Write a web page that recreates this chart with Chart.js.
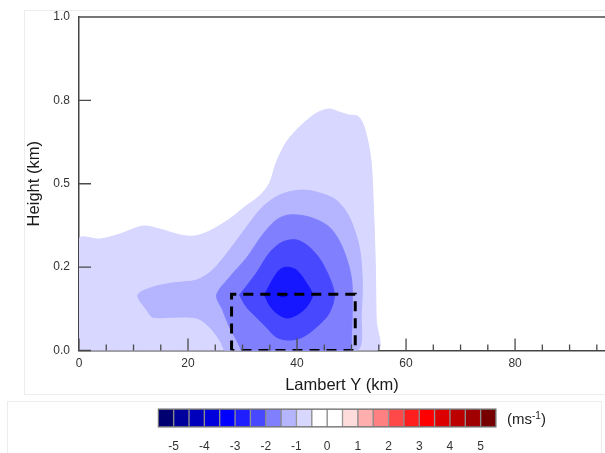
<!DOCTYPE html>
<html>
<head>
<meta charset="utf-8">
<script src="https://cdn.jsdelivr.net/npm/chart.js@4.4.1/dist/chart.umd.min.js"></script>
<style>
  body { margin: 0; background: #fff; width: 605px; height: 453px; overflow: hidden; position: relative;
         font-family: "Liberation Sans", Arial, sans-serif; }
  #plot { position: absolute; left: 0; top: 0; }
  #bar { position: absolute; left: 0; top: 400px; }
  .frame { position: absolute; border: 1px solid #ececec; }
  #unit { position: absolute; left: 507px; top: 410px; font-size: 15px; line-height: 18px; color: #222; }
  #unit sup { font-size: 10px; vertical-align: 5px; line-height: 0; }
</style>
</head>
<body>
<div class="frame" style="left:24px; top:10px; width:590px; height:383px; border-right:none;"></div>
<div class="frame" style="left:7px; top:401px; width:593px; height:60px; border-bottom:none;"></div>
<canvas id="plot" width="605" height="400"></canvas>
<canvas id="bar" width="605" height="53"></canvas>
<div id="unit">(ms<sup>-1</sup>)</div>
<script>
// height axis is drawn with evenly spaced (non-linear) labels
const heightTicks = [0, 0.2, 0.5, 0.8, 1.0];
const heightLabels = ['0.0', '0.2', '0.5', '0.8', '1.0'];
const lambertTicks = [0, 20, 40, 60, 80];

// contour outlines, [Lambert Y (km), height (km)]
const contour1 = [[0, 0], [0, 0.301], [3.84, 0.301], [7.5, 0.319], [11.71, 0.348], [14.82, 0.337], [18.48, 0.316],
  [21.22, 0.312], [23.97, 0.330], [27.63, 0.373], [30.37, 0.416], [33.11, 0.456], [34.94, 0.502], [36.22, 0.578],
  [38.05, 0.650], [40.43, 0.704], [43.54, 0.754], [45.92, 0.769], [47.75, 0.758], [49.58, 0.747], [51.04, 0.744],
  [51.96, 0.722], [52.87, 0.664], [53.6, 0.578], [53.97, 0.441], [54.34, 0.226], [54.52, 0.073], [54.7, 0],
  [30, 0], [0, 0]];
const contour2 = [[26.71, 0], [25.8, 0.025], [23.97, 0.056], [21.59, 0.078], [17.2, 0.08], [13.54, 0.08], [12.44, 0.097],
  [10.79, 0.133], [13.54, 0.152], [17.2, 0.162], [21.59, 0.169], [24.52, 0.193], [27.63, 0.262], [30.74, 0.344],
  [33.66, 0.416], [36.77, 0.459], [40.43, 0.477], [43.54, 0.470], [47.2, 0.441], [49.58, 0.380], [51.41, 0.272],
  [51.96, 0.169], [51.78, 0.09], [51.04, 0], [40, 0], [26.71, 0]];
const contour3 = [[29.82, 0], [28.91, 0.025], [27.63, 0.056], [26.35, 0.097], [25.25, 0.133], [27.63, 0.176],
  [30.74, 0.233], [33.66, 0.316], [36.22, 0.370], [38.6, 0.388], [42.26, 0.380], [45.92, 0.344], [48.3, 0.272],
  [49.95, 0.176], [50.13, 0.104], [49.95, 0.032], [49.58, 0], [40, 0], [29.82, 0]];
const contour4 = [[29.45, 0.133], [32.56, 0.186], [34.94, 0.251], [37.32, 0.290], [39.88, 0.298], [42.26, 0.272],
  [44.64, 0.215], [46.83, 0.138], [45.92, 0.09], [43.54, 0.056], [40.98, 0.032], [38.6, 0.025], [36.22, 0.032],
  [34.39, 0.056], [32.56, 0.08], [30.74, 0.104], [29.45, 0.133]];
const contour5 = [[34.03, 0.133], [35.49, 0.169], [36.77, 0.193], [38.05, 0.200], [39.88, 0.193], [41.71, 0.162],
  [42.81, 0.133], [41.71, 0.104], [39.88, 0.085], [38.05, 0.078], [36.22, 0.09], [34.94, 0.109], [34.03, 0.133]];
const contour6 = [[36.4, 0.133], [37.4, 0.137], [38.4, 0.134], [37.4, 0.129], [36.4, 0.133]];
const contourColors = ['#d7d7ff', '#b4b4ff', '#8080ff', '#4848ff', '#1616ff', '#0000e0'];

// dashed box [x0, x1] and top height
const boxX = [27.99, 50.68];
const boxTop = 0.135;

// colour bar
const speedBounds = [-5.5, -5, -4.5, -4, -3.5, -3, -2.5, -2, -1.5, -1, -0.5, 0, 0.5, 1, 1.5, 2, 2.5, 3, 3.5, 4, 4.5, 5, 5.5];
const speedColors = ['#000070', '#00009c', '#0000bc', '#0000dc', '#0000ff', '#1e1eff', '#4848ff', '#8080ff',
  '#b4b4ff', '#d8d8ff', '#ffffff', '#ffffff', '#ffdcdc', '#ffaeae', '#ff8080', '#ff4848', '#ff1e1e', '#ff0000',
  '#dc0000', '#bc0000', '#a00000', '#760000'];
const speedTicks = [-5, -4, -3, -2, -1, 0, 1, 2, 3, 4, 5];

const FONT = '"Liberation Sans", Arial, sans-serif';

function heightToAxis(h) {
    for (let i = 0; i < heightTicks.length - 1; i++) {
        if (h <= heightTicks[i + 1]) {
            return i + (h - heightTicks[i]) / (heightTicks[i + 1] - heightTicks[i]);
        }
    }
    return heightTicks.length - 1;
}

function toPoints(list) {
    return list.map(p => ({ x: p[0], y: heightToAxis(p[1]) }));
}

function contourDataset(list, color) {
    return {
        data: toPoints(list),
        backgroundColor: color,
        borderColor: color,
        borderWidth: 1,
        pointRadius: 0,
        tension: 0.3,
        fill: 'shape'
    };
}

const boxPoints = [[boxX[0], 0], [boxX[0], boxTop], [boxX[1], boxTop], [boxX[1], 0], [boxX[0], 0]];

const datasets = [
    {
        data: toPoints(boxPoints),
        borderColor: '#000',
        borderWidth: 3,
        borderDash: [10, 7],
        pointRadius: 0,
        tension: 0,
        fill: false
    },
    contourDataset(contour6, contourColors[5]),
    contourDataset(contour5, contourColors[4]),
    contourDataset(contour4, contourColors[3]),
    contourDataset(contour3, contourColors[2]),
    contourDataset(contour2, contourColors[1]),
    contourDataset(contour1, contourColors[0])
];

const frameTicks = {
    id: 'frameTicks',
    afterDatasetsDraw(chart) {
        const { ctx, chartArea, scales: { x, y } } = chart;
        ctx.save();
        ctx.strokeStyle = '#4a4a4a';
        ctx.lineWidth = 1.3;
        ctx.beginPath();
        ctx.moveTo(chartArea.left, chartArea.top);
        ctx.lineTo(chartArea.right, chartArea.top);
        for (let v = 0; v <= x.max; v += 5) {
            const px = x.getPixelForValue(v);
            const len = lambertTicks.includes(v) ? 12 : 6;
            ctx.moveTo(px, chartArea.bottom);
            ctx.lineTo(px, chartArea.bottom - len);
        }
        heightTicks.forEach((h, i) => {
            const py = y.getPixelForValue(i);
            ctx.moveTo(chartArea.left, py);
            ctx.lineTo(chartArea.left + 12, py);
        });
        ctx.stroke();
        ctx.restore();
    }
};

new Chart(document.getElementById('plot'), {
    type: 'line',
    data: { datasets: datasets },
    options: {
        responsive: false,
        animation: false,
        devicePixelRatio: 1,
        layout: { padding: { top: 17, left: 0, right: 0, bottom: 0 } },
        plugins: { legend: { display: false }, tooltip: { enabled: false } },
        scales: {
            x: {
                type: 'linear',
                min: 0,
                max: 96.5,
                afterBuildTicks: s => { s.ticks = lambertTicks.map(v => ({ value: v })); },
                afterFit: s => { s.height = 49.5; },
                grid: { display: false, drawTicks: false },
                border: { display: true, color: '#444', width: 1.5 },
                ticks: { padding: 6, color: '#333', font: { family: FONT, size: 12 } },
                title: { display: true, text: 'Lambert Y (km)', color: '#1a1a1a',
                         font: { family: FONT, size: 16.5 }, padding: { top: 0, bottom: 5 } }
            },
            y: {
                type: 'linear',
                min: 0,
                max: heightTicks.length - 1,
                afterBuildTicks: s => { s.ticks = heightTicks.map((h, i) => ({ value: i })); },
                afterFit: s => { s.width = 79; },
                grid: { display: false, drawTicks: false },
                border: { display: true, color: '#444', width: 1.5 },
                ticks: { padding: 9, color: '#333', font: { family: FONT, size: 12 },
                         callback: v => heightLabels[v] },
                title: { display: true, text: 'Height (km)', color: '#1a1a1a',
                         font: { family: FONT, size: 16.5 }, padding: { top: 24.6, bottom: 0 } }
            }
        }
    },
    plugins: [frameTicks]
});

const barOutline = {
    id: 'barOutline',
    afterDatasetsDraw(chart) {
        const { ctx, chartArea } = chart;
        ctx.save();
        ctx.strokeStyle = '#666';
        ctx.lineWidth = 1;
        ctx.strokeRect(chartArea.left, chartArea.top, chartArea.right - chartArea.left, chartArea.bottom - chartArea.top);
        ctx.restore();
    }
};

new Chart(document.getElementById('bar'), {
    type: 'bar',
    data: {
        labels: ['speed'],
        datasets: speedColors.map((c, i) => ({
            data: [[speedBounds[i], speedBounds[i + 1]]],
            backgroundColor: c,
            borderColor: '#8c8c8c',
            borderWidth: 1,
            borderSkipped: false,
            grouped: false,
            barPercentage: 1,
            categoryPercentage: 1
        }))
    },
    options: {
        indexAxis: 'y',
        responsive: false,
        animation: false,
        devicePixelRatio: 1,
        layout: { padding: { left: 158.3, right: 109, top: 9, bottom: 0 } },
        plugins: { legend: { display: false }, tooltip: { enabled: false } },
        scales: {
            x: {
                type: 'linear',
                min: speedBounds[0],
                max: speedBounds[speedBounds.length - 1],
                afterBuildTicks: s => { s.ticks = speedTicks.map(v => ({ value: v })); },
                afterFit: s => { s.height = 26; },
                grid: { display: false, drawTicks: false },
                border: { display: false },
                ticks: { padding: 12, color: '#333', font: { family: FONT, size: 12 } }
            },
            y: { display: false }
        }
    },
    plugins: [barOutline]
});
</script>
</body>
</html>
